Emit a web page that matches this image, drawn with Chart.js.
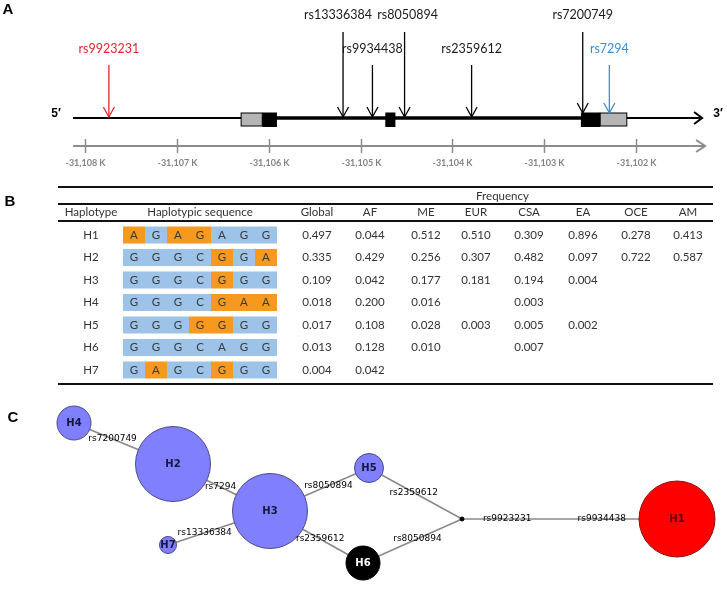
<!DOCTYPE html>
<html>
<head>
<meta charset="utf-8">
<title>Haplotypes</title>
<script src="https://cdn.jsdelivr.net/npm/chart.js@4.4.1/dist/chart.umd.min.js"></script>
<style>
  body { margin: 0; background: #fff; }
  #fig { position: relative; width: 727px; height: 590px; }
  #fig canvas { position: absolute; left: 0; }
</style>
</head>
<body>
<div id="fig">
  <canvas id="geneChart" width="727" height="178" style="top:0"></canvas>
  <canvas id="tableChart" width="727" height="210" style="top:180px"></canvas>
  <canvas id="networkChart" width="727" height="200" style="top:390px"></canvas>
</div>
<script>
// ---- A: gene model (positions in K)
const snpNames = ['rs9923231', 'rs13336384', 'rs9934438', 'rs8050894', 'rs2359612', 'rs7200749', 'rs7294'];
const snpPosK = [-31107.74, -31105.19, -31104.87, -31104.52, -31103.79, -31102.58, -31102.29];
const axisTicksK = [-31108, -31107, -31106, -31105, -31104, -31103, -31102];
const geneSpanK = [-31108.13, -31101.28];
const intronSpanK = [-31105.91, -31102.60];
const utrK = [[-31106.30, -31106.07], [-31102.39, -31102.10]];
const cdsK = [[-31106.07, -31105.91], [-31104.73, -31104.62], [-31102.60, -31102.39]];

// ---- B: haplotype table
const haplotypes = ['H1', 'H2', 'H3', 'H4', 'H5', 'H6', 'H7'];
const sequences = ['AGAGAGG', 'GGGCGGA', 'GGGCGGG', 'GGGCGAA', 'GGGGGGG', 'GGGCAGG', 'GAGCGGG'];
const refSequence = 'GGGCAGG';
const popLabels = ['Global', 'AF', 'ME', 'EUR', 'CSA', 'EA', 'OCE', 'AM'];
const freqGlobal = [0.497, 0.335, 0.109, 0.018, 0.017, 0.013, 0.004];
const freqAF = [0.044, 0.429, 0.042, 0.200, 0.108, 0.128, 0.042];
const freqME = [0.512, 0.256, 0.177, 0.016, 0.028, 0.010, null];
const freqEUR = [0.510, 0.307, 0.181, null, 0.003, null, null];
const freqCSA = [0.309, 0.482, 0.194, 0.003, 0.005, 0.007, null];
const freqEA = [0.896, 0.097, 0.004, null, 0.002, null, null];
const freqOCE = [0.278, 0.722, null, null, null, null, null];
const freqAM = [0.413, 0.587, null, null, null, null, null];

// ---- C: haplotype network (layout units)
const nodeIds = ['H1', 'H2', 'H3', 'H4', 'H5', 'H6', 'H7', 'mv'];
const nodeX = [67.7, 17.3, 27.0, 7.4, 36.9, 36.3, 16.8, 46.2];
const nodeY = [12.9, 7.4, 12.1, 3.3, 7.8, 17.3, 15.5, 12.9];
const nodeSize = [38, 37.5, 37.5, 17, 14.5, 17, 8.5, 2];
const edgeFrom = ['H4', 'H2', 'H3', 'H3', 'H3', 'H5', 'H6', 'mv'];
const edgeTo = ['H2', 'H3', 'H5', 'H7', 'H6', 'mv', 'mv', 'H1'];
const edgeSnps = [['rs7200749'], ['rs7294'], ['rs8050894'], ['rs13336384'], ['rs2359612'], ['rs2359612'], ['rs8050894'], ['rs9923231', 'rs9934438']];

// styles
const ORANGE = '#f7981f', BLUE = '#9dc3e8';
const snpColor = { rs9923231: '#e3262b', rs7294: '#3a8ed2' };
const tallSnps = ['rs13336384', 'rs8050894', 'rs7200749'];
const labelShift = { rs13336384: -5, rs8050894: 3 };
const edgeLabelAt = [[0.39], [0.49], [0.59], [0.64], [0.54], [0.48], [0.55], [0.21, 0.65]];
const popX = [317, 370, 426, 476, 529, 583, 636, 688];
const HAP_X = 91, RULE_L = 58, RULE_R = 713;
const AXIS_Y = -28, BOX_TOP = 5, BOX_BOTTOM = -8;

const panelLabel = (ctx, txt, x, y) => {
  ctx.font = 'bold 15px "Liberation Sans"';
  ctx.fillStyle = '#000';
  ctx.textAlign = 'center';
  ctx.textBaseline = 'middle';
  ctx.fillText(txt, x, y);
};

const chevron = (ctx, px, py, dir, half, len) => {
  ctx.beginPath();
  if (dir === 'down') {
    ctx.moveTo(px - half, py - len); ctx.lineTo(px, py); ctx.lineTo(px + half, py - len);
  } else {
    ctx.moveTo(px - len, py - half); ctx.lineTo(px, py); ctx.lineTo(px - len, py + half);
  }
  ctx.stroke();
};

const onBox = (p) => utrK.concat(cdsK).some(([a, b]) => p >= a && p <= b);

// ================= A
const geneDatasets = [
  { data: [{x: geneSpanK[0], y: 0}, {x: geneSpanK[1] - 0.02, y: 0}], borderColor: '#000', borderWidth: 2 },
  { data: [{x: intronSpanK[0], y: 0}, {x: intronSpanK[1], y: 0}], borderColor: '#000', borderWidth: 3.5 },
  { data: [{x: geneSpanK[0], y: AXIS_Y}, {x: geneSpanK[1] + 0.02, y: AXIS_Y}], borderColor: '#8c8c8c', borderWidth: 2 }
];
snpNames.forEach((s, i) => {
  geneDatasets.push({
    data: [{x: snpPosK[i], y: tallSnps.includes(s) ? 86 : 53}, {x: snpPosK[i], y: onBox(snpPosK[i]) ? BOX_TOP : 1}],
    borderColor: snpColor[s] || '#000',
    borderWidth: 1.3
  });
});

const geneDraw = {
  id: 'geneDraw',
  afterDatasetsDraw(chart) {
    const {ctx} = chart, x = chart.scales.x, y = chart.scales.y;
    ctx.save();
    const yT = y.getPixelForValue(BOX_TOP), yB = y.getPixelForValue(BOX_BOTTOM);
    utrK.forEach(([a, b]) => {
      const xa = x.getPixelForValue(a), xb = x.getPixelForValue(b);
      ctx.fillStyle = '#b5b5b5';
      ctx.fillRect(xa, yT, xb - xa, yB - yT);
      ctx.strokeStyle = '#000'; ctx.lineWidth = 1;
      ctx.strokeRect(xa, yT, xb - xa, yB - yT);
    });
    cdsK.forEach(([a, b]) => {
      const xa = x.getPixelForValue(a), xb = x.getPixelForValue(b);
      ctx.fillStyle = '#000';
      ctx.fillRect(xa, yT - 0.5, xb - xa, yB - yT + 1.5);
    });
    // arrow tips
    ctx.lineWidth = 2; ctx.strokeStyle = '#000';
    chevron(ctx, x.getPixelForValue(geneSpanK[1]), y.getPixelForValue(0), 'right', 6, 8);
    ctx.strokeStyle = '#8c8c8c';
    chevron(ctx, x.getPixelForValue(geneSpanK[1]) + 3, y.getPixelForValue(AXIS_Y), 'right', 6, 9);
    ctx.lineWidth = 1.3;
    snpNames.forEach((s, i) => {
      ctx.strokeStyle = snpColor[s] || '#000';
      chevron(ctx, x.getPixelForValue(snpPosK[i]), y.getPixelForValue(onBox(snpPosK[i]) ? BOX_TOP : 1), 'down', 5.5, 10);
      ctx.font = '12.5px Lato';
      ctx.fillStyle = snpColor[s] || '#1a1a1a';
      ctx.textAlign = 'center'; ctx.textBaseline = 'middle';
      ctx.fillText(s, x.getPixelForValue(snpPosK[i]) + (labelShift[s] || 0), y.getPixelForValue(tallSnps.includes(s) ? 103 : 69));
    });
    // axis ticks
    ctx.strokeStyle = '#8c8c8c'; ctx.lineWidth = 1.5;
    ctx.font = 'bold 9px Lato'; ctx.fillStyle = '#858585';
    axisTicksK.forEach(t => {
      const px = Math.round(x.getPixelForValue(t)) + 0.5;
      ctx.beginPath();
      ctx.moveTo(px, y.getPixelForValue(AXIS_Y + 7));
      ctx.lineTo(px, y.getPixelForValue(AXIS_Y - 7));
      ctx.stroke();
      ctx.fillText(t.toLocaleString('en-US') + ' K', px, y.getPixelForValue(AXIS_Y - 17));
    });
    ctx.font = 'bold 12px "Liberation Sans"'; ctx.fillStyle = '#000';
    ctx.fillText('5\u2032', x.getPixelForValue(geneSpanK[0]) - 17, y.getPixelForValue(4));
    ctx.fillText('3\u2032', x.getPixelForValue(geneSpanK[1]) + 16, y.getPixelForValue(4));
    panelLabel(ctx, 'A', 8, 10);
    ctx.restore();
  }
};

new Chart(document.getElementById('geneChart'), {
  type: 'scatter',
  data: { datasets: geneDatasets.map(d => Object.assign({ showLine: true, pointRadius: 0, clip: false }, d)) },
  options: {
    responsive: false,
    animation: false,
    events: [],
    layout: { autoPadding: false, padding: { left: 39.1, right: 45.1, top: 0, bottom: 0 } },
    plugins: { legend: { display: false }, tooltip: { enabled: false } },
    scales: {
      x: { type: 'linear', display: false, min: -31108.5, max: -31101.5 },
      y: { type: 'linear', display: false, min: -60, max: 118 }
    }
  },
  plugins: [geneDraw]
});

// ================= B
const freqTable = [freqGlobal, freqAF, freqME, freqEUR, freqCSA, freqEA, freqOCE, freqAM];

const tableDraw = {
  id: 'tableDraw',
  afterDatasetsDraw(chart) {
    const {ctx} = chart, x = chart.scales.x, y = chart.scales.y;
    ctx.save();
    ctx.strokeStyle = '#111'; ctx.lineWidth = 2;
    [7, 24, 41, 204].forEach(yy => {
      ctx.beginPath(); ctx.moveTo(RULE_L, yy); ctx.lineTo(RULE_R, yy); ctx.stroke();
    });
    ctx.font = '11.5px Lato'; ctx.fillStyle = '#333';
    ctx.textAlign = 'center'; ctx.textBaseline = 'middle';
    ctx.fillText('Frequency', (popX[0] + popX[popX.length - 1]) / 2, 16);
    ctx.fillText('Haplotype', HAP_X, 32);
    ctx.fillText('Haplotypic sequence', x.getPixelForValue(3.5), 32);
    popLabels.forEach((p, k) => ctx.fillText(p, popX[k], 32));
    haplotypes.forEach((h, i) => {
      const yy = y.getPixelForValue(i);
      ctx.fillStyle = '#333';
      ctx.fillText(h, HAP_X, yy);
      freqTable.forEach((col, k) => {
        if (col[i] != null) ctx.fillText(col[i].toFixed(3), popX[k], yy);
      });
      ctx.fillStyle = '#3a3a3a';
      sequences[i].split('').forEach((b, j) => ctx.fillText(b, x.getPixelForValue(j + 0.5), yy));
    });
    panelLabel(ctx, 'B', 10, 22);
    ctx.restore();
  }
};

new Chart(document.getElementById('tableChart'), {
  type: 'bar',
  data: {
    labels: haplotypes,
    datasets: refSequence.split('').map((refBase, j) => ({
      data: haplotypes.map(() => 1),
      backgroundColor: sequences.map(s => s[j] !== refBase ? ORANGE : BLUE),
      borderWidth: 0,
      barPercentage: 0.75,
      categoryPercentage: 1
    }))
  },
  options: {
    indexAxis: 'y',
    responsive: false,
    animation: false,
    events: [],
    layout: { autoPadding: false, padding: { left: 123, right: 450, top: 43.75, bottom: 8.75 } },
    plugins: { legend: { display: false }, tooltip: { enabled: false } },
    scales: {
      x: { stacked: true, display: false, min: 0, max: 7 },
      y: { stacked: true, display: false }
    }
  },
  plugins: [tableDraw]
});

// ================= C
const nodeColor = id => id === 'H1' ? '#ff0000' : (id === 'H6' || id === 'mv') ? '#000' : '#8080ff';
const nodeBorder = id => id === 'H1' ? '#8a1010' : (id === 'H6' || id === 'mv') ? '#000' : '#4a4a86';
const nodeText = id => id === 'H1' ? '#5a0000' : id === 'H6' ? '#fff' : '#16163e';
const idx = id => nodeIds.indexOf(id);

const edgeDatasets = edgeFrom.map((f, e) => ({
  type: 'line',
  data: [{x: nodeX[idx(f)], y: nodeY[idx(f)]}, {x: nodeX[idx(edgeTo[e])], y: nodeY[idx(edgeTo[e])]}],
  borderColor: '#8a8a8a',
  borderWidth: 1.6,
  pointRadius: 0,
  order: 2,
  clip: false
}));

const networkDraw = {
  id: 'networkDraw',
  afterDatasetsDraw(chart) {
    const {ctx} = chart, x = chart.scales.x, y = chart.scales.y;
    ctx.save();
    ctx.textAlign = 'center'; ctx.textBaseline = 'middle';
    ctx.font = '9px "DejaVu Sans"'; ctx.fillStyle = '#000';
    edgeFrom.forEach((f, e) => {
      const a = idx(f), b = idx(edgeTo[e]);
      const ax = x.getPixelForValue(nodeX[a]), ay = y.getPixelForValue(nodeY[a]);
      const bx = x.getPixelForValue(nodeX[b]), by = y.getPixelForValue(nodeY[b]);
      edgeSnps[e].forEach((s, k) => {
        const t = edgeLabelAt[e][k];
        ctx.fillText(s, ax + (bx - ax) * t, ay + (by - ay) * t);
      });
    });
    ctx.font = 'bold 10px "DejaVu Sans"';
    nodeIds.forEach((id, i) => {
      if (id === 'mv') return;
      ctx.fillStyle = nodeText(id);
      ctx.fillText(id, x.getPixelForValue(nodeX[i]), y.getPixelForValue(nodeY[i]));
    });
    panelLabel(ctx, 'C', 13, 28);
    ctx.restore();
  }
};

new Chart(document.getElementById('networkChart'), {
  type: 'bubble',
  data: {
    datasets: [{
      data: nodeIds.map((id, i) => ({x: nodeX[i], y: nodeY[i], r: nodeSize[i]})),
      backgroundColor: nodeIds.map(nodeColor),
      borderColor: nodeIds.map(nodeBorder),
      borderWidth: 1,
      order: 1,
      clip: false
    }].concat(edgeDatasets)
  },
  options: {
    responsive: false,
    animation: false,
    events: [],
    layout: { autoPadding: false, padding: 0 },
    plugins: { legend: { display: false }, tooltip: { enabled: false } },
    scales: {
      x: { type: 'linear', display: false, min: 0, max: 72.7 },
      y: { type: 'linear', display: false, min: 0, max: 20, reverse: true }
    }
  },
  plugins: [networkDraw]
});
</script>
</body>
</html>
